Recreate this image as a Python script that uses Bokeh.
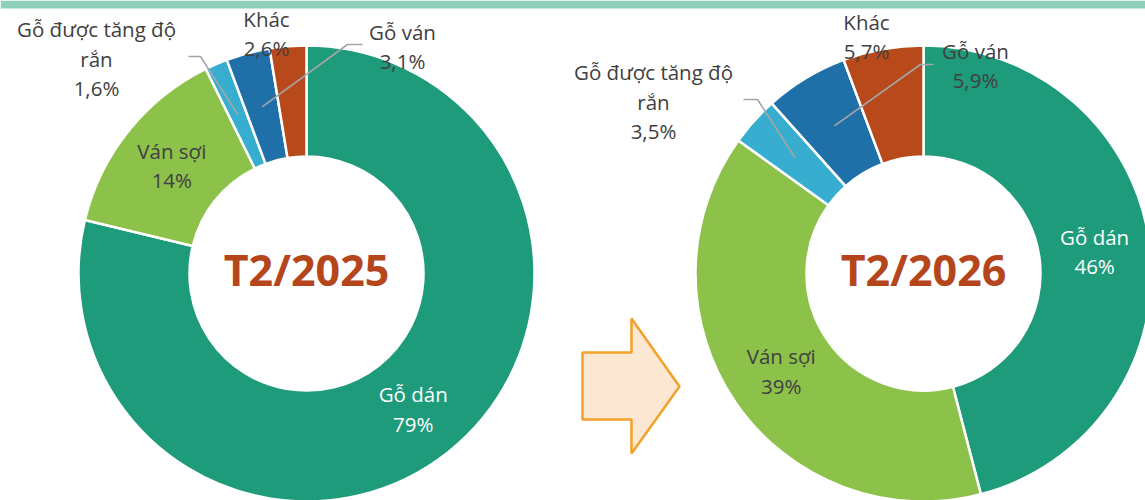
import math
from bokeh.plotting import figure
from bokeh.models import Range1d, ColumnDataSource
from bokeh.core.properties import value
from bokeh.embed import file_html
from bokeh.resources import INLINE

# ---------------- data ----------------
categories = ["Gỗ dán", "Ván sợi", "Gỗ được tăng độ rắn", "Gỗ ván", "Khác"]
share_2025 = [79, 14, 1.6, 3.1, 2.6]
share_2026 = [46, 39, 3.5, 5.9, 5.7]
pct_2025 = ["79%", "14%", "1,6%", "3,1%", "2,6%"]
pct_2026 = ["46%", "39%", "3,5%", "5,9%", "5,7%"]
period_labels = ["T2/2025", "T2/2026"]
label_lines = [["Gỗ dán"], ["Ván sợi"], ["Gỗ được tăng độ", "rắn"], ["Gỗ ván"], ["Khác"]]
colors = ["#1e9b7a", "#8cc14a", "#37aecf", "#1f6fa8", "#b7491a"]

# ---------------- layout (page pixel coords, y down) ----------------
PAGE_W, PAGE_H = 1145, 500
centers_x = [306, 923]
center_y = 273
R_OUT, R_IN = 228, 117
LINE_STEP = 29.5
FONT = "Open Sans"
LABEL_SIZE = "20.5px"
TEXT_GREY = "#404040"
inside_colors = ["white", TEXT_GREY]
# outside label block centres and leader-line start/elbow, per chart
outside_pos = [
    {2: (96, 58), 3: (402, 46), 4: (266, 33)},
    {2: (653, 101), 3: (975, 65), 4: (866, 36)},
]
leaders = [
    {2: [(188, 56), (200, 56)], 3: [(362, 44), (347, 44)]},
    {2: [(743, 99), (757, 99)], 3: [(933, 64), (920, 64)]},
]
arrow_px = [(582, 352), (631, 352), (631, 318), (679, 386), (631, 453), (631, 419), (582, 419)]
BAND_H = 8


def Y(ypix):
    return PAGE_H - ypix


p = figure(width=PAGE_W, height=PAGE_H,
           x_range=Range1d(0, PAGE_W), y_range=Range1d(0, PAGE_H),
           output_backend="svg", toolbar_location=None, min_border=0,
           x_axis_location=None, y_axis_location=None,
           outline_line_color=None, background_fill_color="white",
           border_fill_color="white")
p.grid.visible = False

# top decorative band
p.quad(left=[0], right=[PAGE_W], bottom=[Y(BAND_H)], top=[Y(0)],
       fill_color="#8fd0bd", line_color=None)

for k, (shares, pcts) in enumerate([(share_2025, pct_2025), (share_2026, pct_2026)]):
    total = sum(shares)
    cum = [0.0]
    for s in shares:
        cum.append(cum[-1] + s / total)
    starts = [math.pi / 2 - 2 * math.pi * c for c in cum[:-1]]
    ends = [math.pi / 2 - 2 * math.pi * c for c in cum[1:]]
    src = ColumnDataSource(dict(start=starts, end=ends, color=colors, cat=categories))
    p.annular_wedge(x=centers_x[k], y=Y(center_y), inner_radius=R_IN, outer_radius=R_OUT,
                    start_angle="start", end_angle="end", direction="clock",
                    fill_color="color", line_color="white", line_width=2.5, source=src)

    r_mid = (R_IN + R_OUT) / 2
    for i in range(len(categories)):
        mid = (cum[i] + cum[i + 1]) / 2 * 2 * math.pi
        mx = centers_x[k] + r_mid * math.sin(mid)
        my = center_y - r_mid * math.cos(mid)
        lines = label_lines[i] + [pcts[i]]
        if i < 2:
            bx, by = mx, my
            col = inside_colors[i]
        else:
            bx, by = outside_pos[k][i]
            col = TEXT_GREY
            if i in leaders[k]:
                pts = leaders[k][i] + [(mx, my)]
                p.line([q[0] for q in pts], [Y(q[1]) for q in pts],
                       line_color="#a6a6a6", line_width=1.6)
        n = len(lines)
        ys = [by + (j - (n - 1) / 2) * LINE_STEP for j in range(n)]
        p.text(x=[bx] * n, y=[Y(v) for v in ys], text=lines,
               text_font=value(FONT), text_font_size=LABEL_SIZE, text_color=col,
               text_align="center", text_baseline="middle")

    p.text(x=[centers_x[k]], y=[Y(269)], text=[period_labels[k]],
           text_font=value(FONT), text_font_size="43px", text_font_style="bold",
           text_color="#b5461b", text_align="center", text_baseline="middle")

p.patch([q[0] for q in arrow_px], [Y(q[1]) for q in arrow_px],
        fill_color="#fce8d2", line_color="#f2a12a", line_width=2.5)

open("out.html", "w").write(file_html(p, INLINE))
